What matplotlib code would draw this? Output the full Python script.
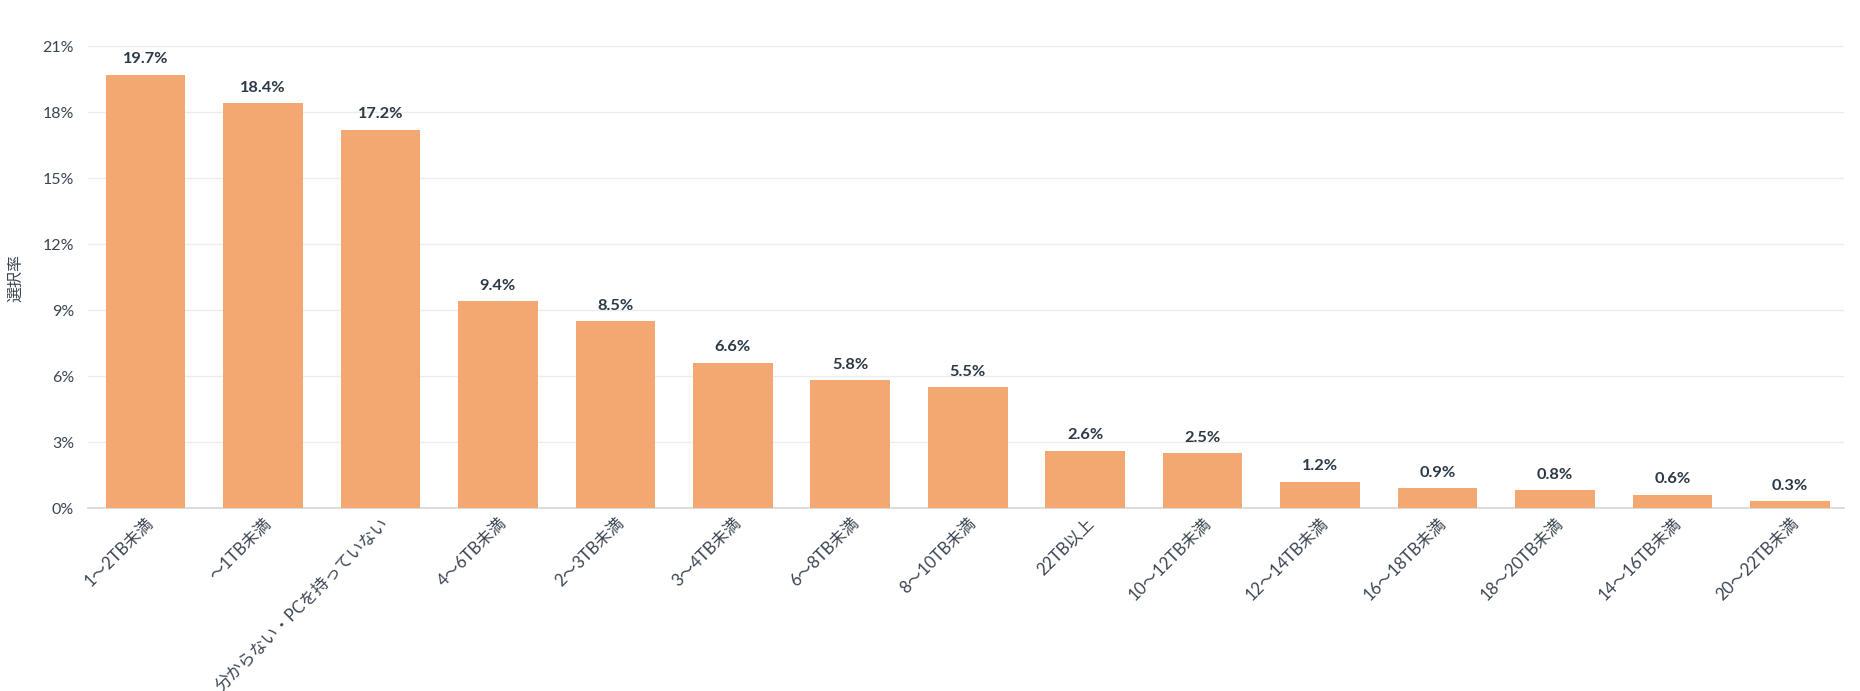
import matplotlib
matplotlib.use("Agg")
import matplotlib.pyplot as plt
from matplotlib.ticker import FuncFormatter

# data
categories = ["1～2TB未満", "～1TB未満", "分からない・PCを持っていない", "4～6TB未満",
              "2～3TB未満", "3～4TB未満", "6～8TB未満", "8～10TB未満", "22TB以上",
              "10～12TB未満", "12～14TB未満", "16～18TB未満", "18～20TB未満",
              "14～16TB未満", "20～22TB未満"]
rates = [19.7, 18.4, 17.2, 9.4, 8.5, 6.6, 5.8, 5.5, 2.6, 2.5, 1.2, 0.9, 0.8, 0.6, 0.3]
y_ticks = [0, 3, 6, 9, 12, 15, 18, 21]

plt.rcParams['font.family'] = ['Lato', 'Noto Sans CJK JP', 'DejaVu Sans']

fig = plt.figure(figsize=(18.6, 6.91), dpi=100)
ax = fig.add_axes([88 / 1860, (691 - 508) / 691, 1756 / 1860, 462 / 691])

x = range(len(categories))
ax.bar(x, rates, width=0.678, color='#F2A870', zorder=3)

# value labels above bars
for xi, v in zip(x, rates):
    ax.annotate(f"{v:.1f}%", (xi, v), xytext=(0, 6), textcoords='offset points',
                ha='center', va='bottom', fontsize=11.8, fontweight='bold',
                color='#2b3845')

ax.set_xlim(-0.49, len(categories) - 0.54)
ax.set_ylim(0, 21)
ax.set_yticks(y_ticks)
ax.yaxis.set_major_formatter(FuncFormatter(lambda v, p: f"{v:.0f}%"))
ax.grid(axis='y', color='#ececec', linewidth=1, zorder=0)
ax.set_axisbelow(True)

for side in ['top', 'right', 'left']:
    ax.spines[side].set_visible(False)
ax.spines['bottom'].set_color('#d6d6d6')
ax.spines['bottom'].set_linewidth(1.2)

ax.tick_params(axis='y', length=0, labelsize=11.5, labelcolor='#3a4450', pad=10)
ax.tick_params(axis='x', length=0, labelsize=12, labelcolor='#3a4450', pad=5)
ax.set_xticks(list(x))
ax.set_xticklabels(categories, rotation=45, ha='right', va='top', rotation_mode='anchor')

fig.text(15.5 / 1860, 1 - 277.5 / 691, '選択率', rotation=90, ha='center', va='center',
         fontsize=11.5, color='#3a4450')

fig.savefig('out.png', dpi=100)
